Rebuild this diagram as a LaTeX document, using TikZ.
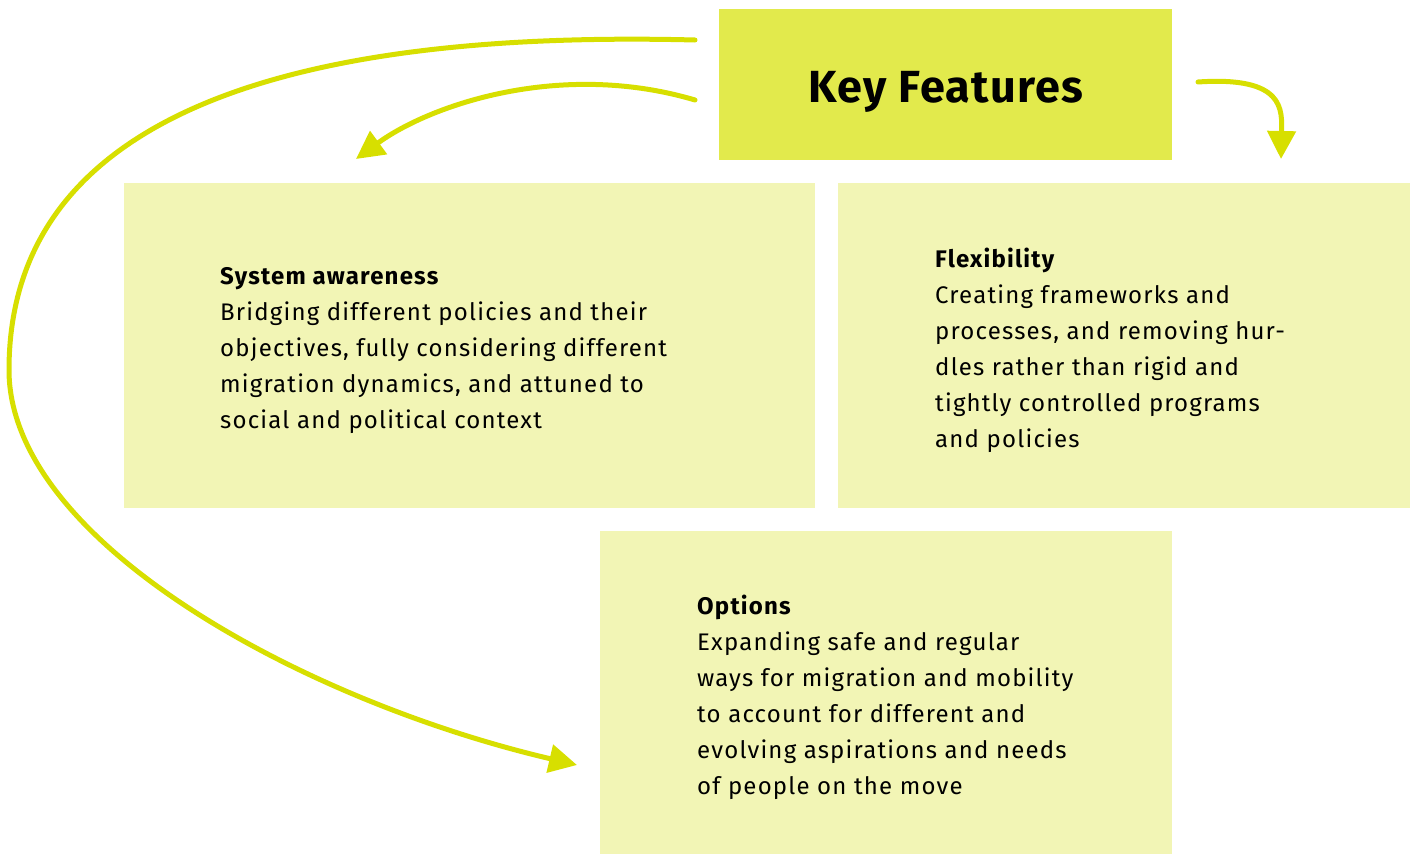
\documentclass[tikz,border=0pt]{standalone}
\usepackage{fontspec}
\setmainfont{Fira Sans}[LetterSpace=5]
\newfontfamily\titlefont{Fira Sans}[LetterSpace=3]
\usetikzlibrary{arrows.meta,calc}
\definecolor{arrowlime}{HTML}{D7DF00}
\definecolor{keyfill}{HTML}{E2EA4C}
\definecolor{panelfill}{HTML}{F2F5B5}
\tikzset{
  panel/.style={fill=panelfill, draw=none},
  keybox/.style={fill=keyfill, draw=none},
  bodytext/.style={anchor=north west, inner sep=0pt, align=left,
    font=\fontsize{24}{36}\selectfont, text=black},
  connector/.style={draw=arrowlime, line width=5pt, line cap=round,
    -{Triangle[length=28pt,width=28pt]}},
}
\begin{document}
\begin{tikzpicture}[x=1pt,y=-1pt]
\useasboundingbox (0,0) rectangle (1416,854);

% boxes
\path[keybox] (719,9) rectangle (1172,160);
\node[inner sep=0pt, font=\titlefont\fontsize{45}{50}\selectfont\bfseries] (kf) at (946,92) {Key Features};
\path[panel] (124,183) rectangle (815,508);
\path[panel] (838,183) rectangle (1410,508);
\path[panel] (600,531) rectangle (1172,854);

% texts
\node[bodytext] (sys) at (220,267) {\textbf{System awareness}\\
Bridging different policies and their\\
objectives, fully considering different\\
migration dynamics, and attuned to\\
social and political context};
\node[bodytext] (flex) at (935,248) {\textbf{Flexibility}\\
Creating frameworks and\\
processes, and removing hur-\\
dles rather than rigid and\\
tightly controlled programs\\
and policies};
\node[bodytext] (opt) at (697,595) {\textbf{Options}\\
Expanding safe and regular\\
ways for migration and mobility\\
to account for different and\\
evolving aspirations and needs\\
of people on the move};

% connector end points
\coordinate (s1) at (695,40);
\coordinate (e1) at (577,765);
\coordinate (m1) at (9,370);
\coordinate (s2) at (695,100);
\coordinate (e2) at (356,159);
\coordinate (s3) at (1198,82);
\coordinate (e3) at (1281,159);

\draw[connector] (s1) .. controls (300,30) and (9,110) .. (m1)
  .. controls (9,540) and (300,700) .. (e1);
\draw[connector] (s2) .. controls (560,60) and (430,105) .. (e2);
\draw[connector] (s3) .. controls (1285,76) and (1282,110) .. (e3);
\end{tikzpicture}
\end{document}
